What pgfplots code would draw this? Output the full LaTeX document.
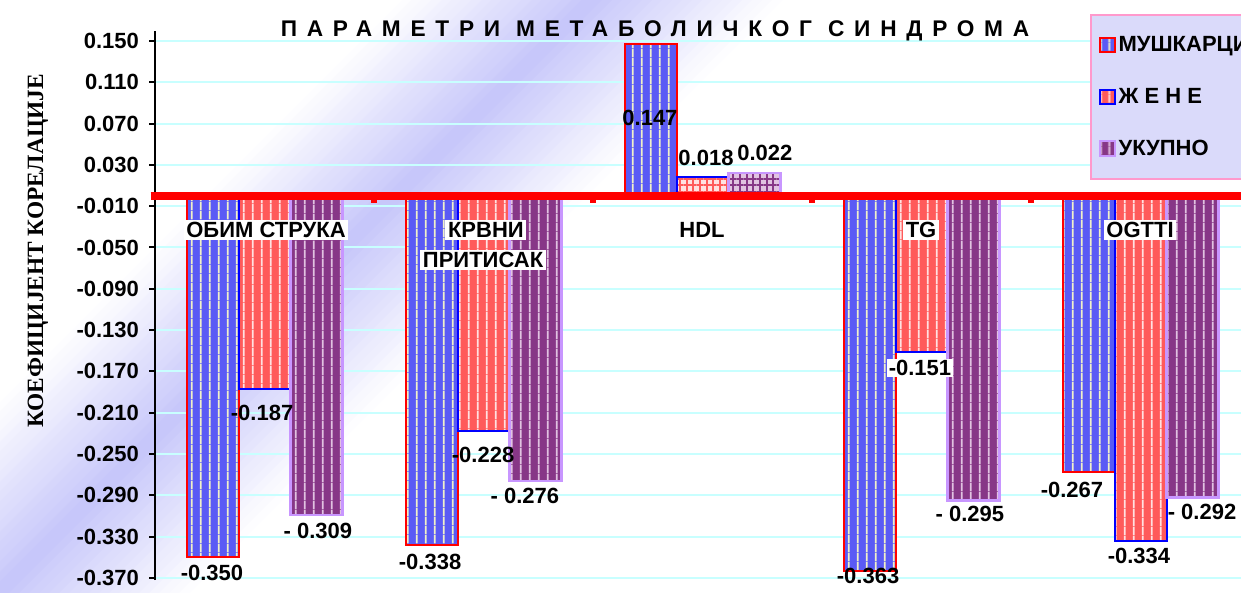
\documentclass[border=0pt]{standalone}
\usepackage{pgfplots}
\pgfplotsset{compat=1.18}
\usepackage{fontspec}
\setmainfont{Liberation Sans}
\newfontfamily\titlefont[LetterSpace=43]{Liberation Sans}
\newfontfamily\serfont{Liberation Serif}
\usetikzlibrary{patterns.meta}
\definecolor{lavband}{RGB}{198,198,250}
\definecolor{gridc}{RGB}{200,255,255}
\definecolor{mblue}{RGB}{90,90,245}
\definecolor{mstripe}{RGB}{240,240,200}
\definecolor{wred}{RGB}{255,90,90}
\definecolor{wstripe}{RGB}{255,225,225}
\definecolor{tpurp}{RGB}{135,55,135}
\definecolor{tstripe}{RGB}{225,195,225}
\definecolor{tedge}{RGB}{200,150,255}
\definecolor{legpink}{RGB}{255,153,204}
\definecolor{legfill}{RGB}{218,218,250}
\tikzset{lbl/.style={font=\bfseries\fontsize{16.5}{19}\selectfont, inner sep=1pt}}
\begin{document}
\begin{tikzpicture}
\useasboundingbox (0,0) rectangle (930.75pt,444pt);
\clip (0,0) rectangle (930.75pt,444pt);
\begin{scope}[x=0.75pt,y=0.75pt]
\foreach \c in {-190,-180,...,180}{
  \pgfmathsetmacro\p{max(0,100*(1-abs(\c+5)/190))}
  \fill[lavband!\p!white] (\c-600,-600) -- (\c+1200,1200) -- (\c+11+1200,1200) -- (\c+11-600,-600) -- cycle;
}
\end{scope}
\begin{axis}[
  at={(116.25pt,9pt)}, anchor=south west,
  x=164.25pt, y=774.5pt,
  xmin=-0.5, xmax=4.46, ymin=-0.372, ymax=0.160,
  axis y line*=left, axis x line=none,
  clip=false,
  ybar, bar width=39pt,
  ytick={-0.37,-0.33,-0.29,-0.25,-0.21,-0.17,-0.13,-0.09,-0.05,-0.01,0.03,0.07,0.11,0.15},
  ymajorgrids, grid style={gridc, line width=1.5pt},
  y axis line style={line width=1.5pt, black},
  ytick style={line width=1.5pt, black},
  tick align=outside, major tick length=4.5pt,
  yticklabel style={font=\bfseries\fontsize{16.5}{19}\selectfont, xshift=-4pt,
    /pgf/number format/.cd, fixed, fixed zerofill, precision=3, assume math mode=true},
  legend style={at={(0.861,1.030)}, anchor=north west, draw=legpink, line width=1.5pt,
    fill=legfill, font=\bfseries\fontsize{16.5}{19}\selectfont, row sep=22pt,
    inner xsep=6pt, inner ysep=14pt, cells={anchor=west}},
  legend image code/.code={\draw[#1, line width=1.5pt] (0pt,-5.5pt) rectangle (11pt,5.5pt);},
]
\addplot[bar shift=-39pt, draw=red, line width=1.5pt, fill=mblue,
  postaction={pattern={Lines[angle=90,distance=6.5pt,line width=1.3pt]}, pattern color=mstripe}]
  coordinates {(0,-0.350) (1,-0.338) (2,0.147) (3,-0.363) (4,-0.267)};
\addlegendentry{МУШКАРЦИ}
\addplot[bar shift=0pt, draw=blue, line width=1.5pt, fill=wred,
  postaction={pattern={Lines[angle=90,distance=6.5pt,line width=1.3pt]}, pattern color=wstripe}]
  coordinates {(0,-0.187) (1,-0.228) (3,-0.151) (4,-0.334)};
\addlegendentry{Ж Е Н Е}
\addplot[bar shift=39pt, draw=tedge, line width=1.8pt, fill=tpurp,
  postaction={pattern={Lines[angle=90,distance=6.5pt,line width=1.3pt]}, pattern color=tstripe}]
  coordinates {(0,-0.309) (1,-0.276) (3,-0.295) (4,-0.292)};
\addlegendentry{УКУПНО}
\addplot[forget plot, bar shift=0pt, draw=blue, line width=1.5pt, fill=wstripe,
  postaction={pattern={Hatch[angle=0,distance=5pt,line width=1.3pt]}, pattern color=wred}]
  coordinates {(2,0.018)};
\addplot[forget plot, bar shift=39pt, draw=tedge, line width=1.8pt, fill=tstripe,
  postaction={pattern={Hatch[angle=0,distance=5pt,line width=1.3pt]}, pattern color=tpurp}]
  coordinates {(2,0.022)};
\pgfplotsinvokeforeach{0.5,1.5,2.5,3.5}{\draw[red, line width=4.5pt] (axis cs:#1,0) -- ([yshift=-5pt]axis cs:#1,0);}
\draw[red, line width=5.5pt] (axis cs:-0.52,0) -- (axis cs:4.46,0);
% category labels
\node[lbl, fill=white, inner sep=2pt] at (axis cs:0.007,-0.0331) {ОБИМ СТРУКА};
\node[lbl, fill=white, inner sep=2pt] at (axis cs:1.011,-0.0331) {КРВНИ};
\node[lbl, fill=white, inner sep=2pt] at (axis cs:0.998,-0.0621) {ПРИТИСАК};
\node[lbl, fill=white, inner sep=2pt] at (axis cs:1.998,-0.0331) {HDL};
\node[lbl, fill=white, inner sep=2pt] at (axis cs:2.998,-0.0331) {TG};
\node[lbl, fill=white, inner sep=2pt] at (axis cs:3.998,-0.0331) {OGTTI};
% value labels
\node[lbl] at (axis cs:-0.240,-0.3652) {-0.350};
\node[lbl] at (axis cs:-0.011,-0.2103) {-0.187};
\node[lbl] at (axis cs:0.244,-0.3246) {- 0.309};
\node[lbl] at (axis cs:0.756,-0.3546) {-0.338};
\node[lbl] at (axis cs:0.998,-0.2510) {-0.228};
\node[lbl] at (axis cs:1.189,-0.2907) {- 0.276};
\node[lbl] at (axis cs:1.760,0.0754) {0.147};
\node[lbl] at (axis cs:2.016,0.0366) {0.018};
\node[lbl] at (axis cs:2.285,0.0415) {0.022};
\node[lbl] at (axis cs:2.756,-0.3681) {-0.363};
\node[lbl, fill=white] at (axis cs:2.993,-0.1667) {-0.151};
\node[lbl] at (axis cs:3.221,-0.3081) {- 0.295};
\node[lbl] at (axis cs:3.687,-0.2849) {-0.267};
\node[lbl] at (axis cs:3.993,-0.3488) {-0.334};
\node[lbl] at (axis cs:4.281,-0.3062) {- 0.292};
\end{axis}
\node[font=\titlefont\bfseries\fontsize{17}{20}\selectfont] at (491.25pt,420.75pt) {ПАРАМЕТРИ МЕТАБОЛИЧКОГ СИНДРОМА};
\node[rotate=90, font=\serfont\bfseries\fontsize{17.5}{20}\selectfont] at (28.5pt,255.75pt) {КОЕФИЦИЈЕНТ КОРЕЛАЦИЈЕ};
\end{tikzpicture}
\end{document}
